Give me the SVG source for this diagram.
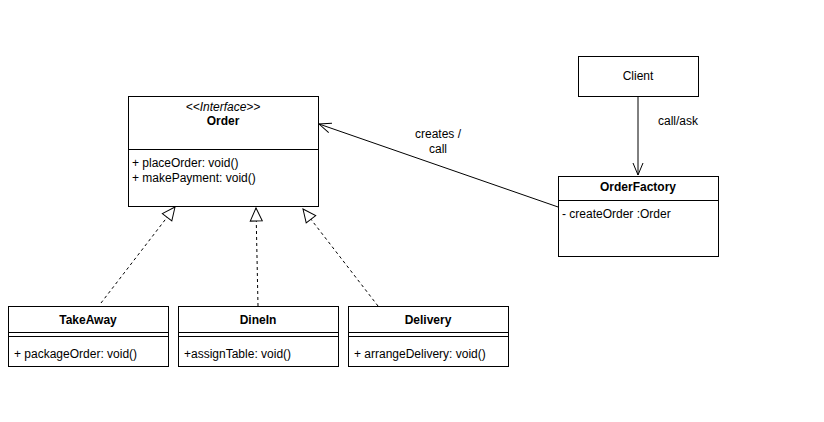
<svg xmlns="http://www.w3.org/2000/svg" width="824" height="422" viewBox="0 0 824 422">
<style>
text{font-family:"Liberation Sans",Arial,sans-serif;font-size:12px;fill:#000}
.b{font-weight:bold;text-anchor:middle}
.c{text-anchor:middle}
rect{fill:#fff;stroke:#000;stroke-width:1}
line{stroke:#000;stroke-width:1}
.d{stroke-dasharray:3,3}
</style>
<defs>
<marker id="tri" markerWidth="16" markerHeight="16" refX="14" refY="7" orient="auto" markerUnits="userSpaceOnUse">
<path d="M1,1 L14,7 L1,13 Z" fill="#fff" stroke="#000"/>
</marker>
<marker id="open" markerWidth="16" markerHeight="16" refX="13" refY="6" orient="auto" markerUnits="userSpaceOnUse">
<path d="M1,1 L13,6 L1,11" fill="none" stroke="#000"/>
</marker>
</defs>
<rect width="824" height="422" style="stroke:none"/>
<g id="connectors">
<line class="d" x1="101" y1="303" x2="175" y2="207" marker-end="url(#tri)"/>
<line class="d" x1="258" y1="306" x2="256" y2="208" marker-end="url(#tri)"/>
<line class="d" x1="378" y1="306" x2="303" y2="209" marker-end="url(#tri)"/>
<line x1="638" y1="96" x2="638" y2="175" marker-end="url(#open)"/>
<line x1="561" y1="208" x2="319" y2="124" marker-end="url(#open)"/>
<text class="c" x="438" y="138">creates /</text>
<text class="c" x="438" y="153">call</text>
<text class="c" x="678" y="125">call/ask</text>
</g>
<g id="Order">
<rect x="128.5" y="96.5" width="190" height="110"/>
<line x1="128.5" y1="149.5" x2="318.5" y2="149.5"/>
<text class="c" x="223" y="111" font-style="italic">&lt;&lt;Interface&gt;&gt;</text>
<text class="b" x="223" y="125">Order</text>
<text x="132" y="167">+ placeOrder: void()</text>
<text x="132" y="182">+ makePayment: void()</text>
</g>
<g id="Client">
<rect x="578.5" y="56.5" width="120" height="40"/>
<text class="c" x="638" y="80">Client</text>
</g>
<g id="OrderFactory">
<rect x="558.5" y="176.5" width="160" height="80"/>
<line x1="558.5" y1="200.5" x2="718.5" y2="200.5"/>
<text class="b" x="638" y="191">OrderFactory</text>
<text x="562" y="218">- createOrder :Order</text>
</g>
<g id="TakeAway">
<rect x="8.5" y="306.5" width="160" height="60"/>
<line x1="8.5" y1="332.5" x2="168.5" y2="332.5"/>
<line x1="8.5" y1="336.5" x2="168.5" y2="336.5"/>
<text class="b" x="88" y="324">TakeAway</text>
<text x="14" y="358">+ packageOrder: void()</text>
</g>
<g id="DineIn">
<rect x="178.5" y="306.5" width="160" height="60"/>
<line x1="178.5" y1="332.5" x2="338.5" y2="332.5"/>
<line x1="178.5" y1="336.5" x2="338.5" y2="336.5"/>
<text class="b" x="258" y="324">DineIn</text>
<text x="184" y="358">+assignTable: void()</text>
</g>
<g id="Delivery">
<rect x="348.5" y="306.5" width="160" height="60"/>
<line x1="348.5" y1="332.5" x2="508.5" y2="332.5"/>
<line x1="348.5" y1="336.5" x2="508.5" y2="336.5"/>
<text class="b" x="428" y="324">Delivery</text>
<text x="354" y="358">+ arrangeDelivery: void()</text>
</g>
</svg>
